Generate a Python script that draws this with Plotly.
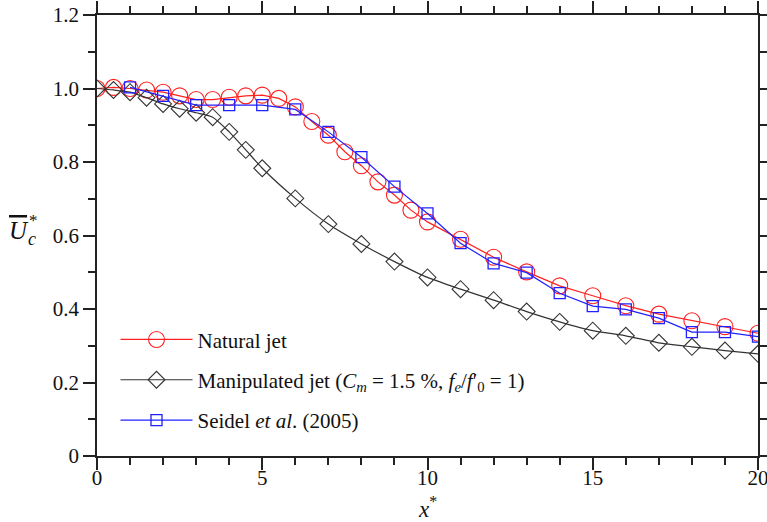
import plotly.graph_objects as go

# Natural jet
x_nat = [0, 0.5, 1, 1.5, 2, 2.5, 3, 3.5, 4, 4.5, 5, 5.5, 6, 6.5, 7, 7.5, 8, 8.5, 9, 9.5, 10,
         11, 12, 13, 14, 15, 16, 17, 18, 19, 20]
y_nat = [1.0, 1.003, 1.0, 0.996, 0.99, 0.98, 0.97, 0.97, 0.976, 0.98, 0.982, 0.973, 0.95, 0.91,
         0.873, 0.828, 0.79, 0.746, 0.71, 0.669, 0.637,
         0.59, 0.541, 0.501, 0.463, 0.436, 0.409, 0.386, 0.368, 0.352, 0.334]

# Manipulated jet
x_man = [0, 0.5, 1, 1.5, 2, 2.5, 3, 3.5, 4, 4.5, 5, 6, 7, 8, 9, 10,
         11, 12, 13, 14, 15, 16, 17, 18, 19, 20]
y_man = [1.0, 0.996, 0.99, 0.975, 0.958, 0.945, 0.934, 0.922, 0.882, 0.833, 0.783, 0.701, 0.631,
         0.577, 0.529, 0.486, 0.454, 0.424, 0.393, 0.365, 0.341, 0.327, 0.308, 0.297, 0.287, 0.278]

# Seidel et al. (2005)
x_sei = [1, 2, 3, 4, 5, 6, 7, 8, 9, 10, 11, 12, 13, 14, 15, 16, 17, 18, 19, 20]
y_sei = [1.003, 0.98, 0.955, 0.955, 0.955, 0.943, 0.882, 0.813, 0.733, 0.66, 0.579, 0.524,
         0.499, 0.443, 0.408, 0.399, 0.375, 0.337, 0.337, 0.325]

names = ["Natural jet",
         "Manipulated jet (<i>C<sub>m</sub></i> = 1.5 %, <i>f<sub>e</sub></i>/<i>f</i>′<sub>0</sub> = 1)",
         "Seidel <i>et al</i>. (2005)"]

y_tickvals = [0, 0.2, 0.4, 0.6, 0.8, 1.0, 1.2]
y_ticktext = ["0", "0.2", "0.4", "0.6", "0.8", "1.0", "1.2"]
x_tickvals = [0, 5, 10, 15, 20]
x_ticktext = ["0", "5", "10", "15", "20"]

RED = "#ff2020"
BLK = "#333333"
BLU = "#2020ff"
FONT = "Liberation Serif"
TXT = "#111111"

fig = go.Figure()
fig.add_trace(go.Scatter(
    x=x_nat, y=y_nat, mode="lines+markers", name=names[0], legendgroup="a",
    line=dict(color=RED, width=1.2),
    marker=dict(symbol="circle-open", size=16, color=RED, line=dict(width=1.1))))
fig.add_trace(go.Scatter(
    x=x_man, y=y_man, mode="lines+markers", name=names[1], legendgroup="b",
    line=dict(color=BLK, width=1.2, shape="spline", smoothing=0.6),
    marker=dict(symbol="diamond-open", size=13, color=BLK, line=dict(width=1.1))))
fig.add_trace(go.Scatter(
    x=x_sei, y=y_sei, mode="lines+markers", name=names[2], legendgroup="c",
    line=dict(color=BLU, width=1.2),
    marker=dict(symbol="square-open", size=11, color=BLU, line=dict(width=1.3))))

axis_common = dict(
    showline=True, linecolor="#222222", linewidth=1.5, mirror="ticks",
    ticks="outside", ticklen=12, tickwidth=1.5, tickcolor="#222222",
    showgrid=False, zeroline=False, automargin=False, ticklabeloverflow="allow",
    tickfont=dict(family=FONT, size=21, color=TXT),
)

fig.update_xaxes(
    range=[0, 20], tickvals=x_tickvals, ticktext=x_ticktext, ticklabelstandoff=-10,
    minor=dict(dtick=1, ticks="outside", ticklen=7, tickwidth=1.5, tickcolor="#222222", showgrid=False),
    **axis_common)
fig.update_yaxes(
    range=[0, 1.2], tickvals=y_tickvals, ticktext=y_ticktext,
    minor=dict(dtick=0.1, ticks="outside", ticklen=7, tickwidth=1.5, tickcolor="#222222", showgrid=False),
    **axis_common)

# x-axis title
fig.add_annotation(
    xref="paper", yref="paper", x=0.5, y=-0.116, xanchor="center", yanchor="middle",
    text="<i>x</i><sup>*</sup>", showarrow=False, font=dict(family=FONT, size=23, color=TXT))

# y-axis title: overlined U with * above c
fig.add_annotation(
    xref="paper", yref="paper", x=-0.118, y=0.512, xanchor="center", yanchor="middle",
    text="<span style='text-decoration:overline'><i>U</i></span>",
    showarrow=False, font=dict(family=FONT, size=25, color=TXT))
fig.add_annotation(
    xref="paper", yref="paper", x=-0.118, y=0.512, xanchor="center", yanchor="middle",
    xshift=14, yshift=10, text="*",
    showarrow=False, font=dict(family=FONT, size=17, color=TXT))
fig.add_annotation(
    xref="paper", yref="paper", x=-0.118, y=0.512, xanchor="center", yanchor="middle",
    xshift=13, yshift=-9, text="<i>c</i>",
    showarrow=False, font=dict(family=FONT, size=18, color=TXT))

fig.update_layout(
    width=767, height=522,
    margin=dict(l=97, r=9, t=15, b=66),
    plot_bgcolor="white", paper_bgcolor="white",
    font=dict(family=FONT, size=21, color=TXT),
    legend=dict(
        x=0.028, y=0.31, xanchor="left", yanchor="top",
        bgcolor="rgba(0,0,0,0)", traceorder="grouped", tracegroupgap=10,
        itemwidth=72, font=dict(family=FONT, size=21, color=TXT)),
)

fig.write_html("out.html")
